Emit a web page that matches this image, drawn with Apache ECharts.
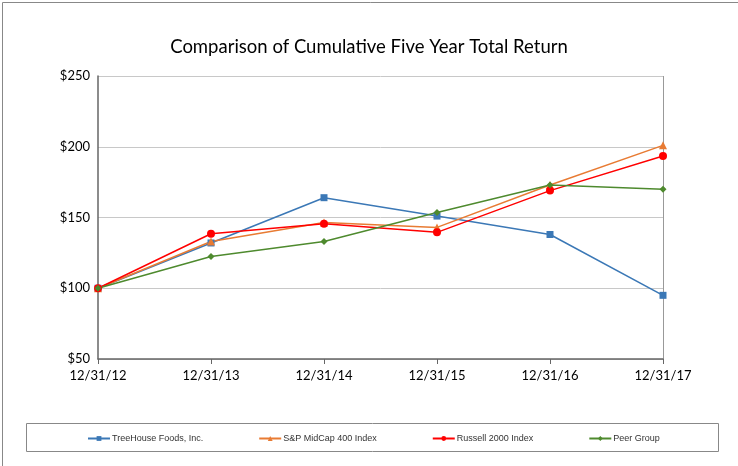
<!DOCTYPE html>
<html><head><meta charset="utf-8">
<script src="https://cdn.jsdelivr.net/npm/echarts@6/dist/echarts.min.js"></script>
<style>html,body{margin:0;padding:0;background:#fff}#c{width:738px;height:466px}</style>
</head><body><div id="c"></div>
<script>
const categories = ['12/31/12','12/31/13','12/31/14','12/31/15','12/31/16','12/31/17'];
const treehouse = [100, 132, 164, 151, 138, 95];
const spMidcap = [100, 133, 146.5, 143, 173, 201];
const russell = [100, 138.5, 145.5, 139.5, 169, 193.5];
const peer = [100, 122.5, 133, 153.5, 173, 170];
const yTicks = {min: 50, max: 250, interval: 50};

const chart = echarts.init(document.getElementById('c'));
const font = 'Lato, "Open Sans", sans-serif';
function s(name, data, color, symbol, size){
  return {name, type:'line', data, color, symbol, symbolSize:size,
    lineStyle:{width:1.5,color}, itemStyle:{color}, animation:false};
}
chart.setOption({
  animation:false,
  title:{text:'Comparison of Cumulative Five Year Total Return', left:'center', top:33,
    textStyle:{fontFamily:font, fontSize:18.5, fontWeight:'normal', color:'#000'}},
  grid:{left:98, right:75, top:76, bottom:107},
  legend:{left:82, top:429, itemGap:55, itemWidth:22, itemHeight:6,
    textStyle:{fontFamily:'"Liberation Sans", Arial, sans-serif', fontSize:9, color:'#333', padding:[0,0,0,-3]},
    data:['TreeHouse Foods, Inc.','S&P MidCap 400 Index','Russell 2000 Index','Peer Group']},
  graphic:[
    {type:'rect', left:0, top:0, shape:{width:737, height:465}, style:{fill:'none', stroke:'#888', lineWidth:1}, silent:true},
    {type:'rect', left:24, top:421, shape:{width:692, height:28}, style:{fill:'none', stroke:'#888', lineWidth:1}, silent:true},
    {type:'line', shape:{x1:663.5,y1:76,x2:663.5,y2:359}, style:{stroke:'#999', lineWidth:1}, silent:true}
  ],
  xAxis:{type:'category', data:categories, boundaryGap:false,
    axisLine:{lineStyle:{color:'#666', width:1.5}},
    axisTick:{show:true, alignWithLabel:true, length:5, lineStyle:{color:'#666'}},
    axisLabel:{fontFamily:font, fontSize:13, color:'#000', margin:10}},
  yAxis:{type:'value', min:yTicks.min, max:yTicks.max, interval:yTicks.interval,
    axisLine:{show:true, lineStyle:{color:'#666', width:1.5}},
    axisTick:{show:false},
    splitLine:{lineStyle:{color:'#c8c8c8', width:1}},
    axisLabel:{fontFamily:font, fontSize:13, color:'#000', margin:8, formatter:v=>'$'+v}},
  series:[
    s('TreeHouse Foods, Inc.', treehouse, '#3b78b6', 'rect', 7),
    s('S&P MidCap 400 Index', spMidcap, '#e87b33', 'triangle', 8),
    s('Russell 2000 Index', russell, '#ff0000', 'circle', 8),
    s('Peer Group', peer, '#4e8a2e', 'diamond', 7)
  ]
});
</script></body></html>
